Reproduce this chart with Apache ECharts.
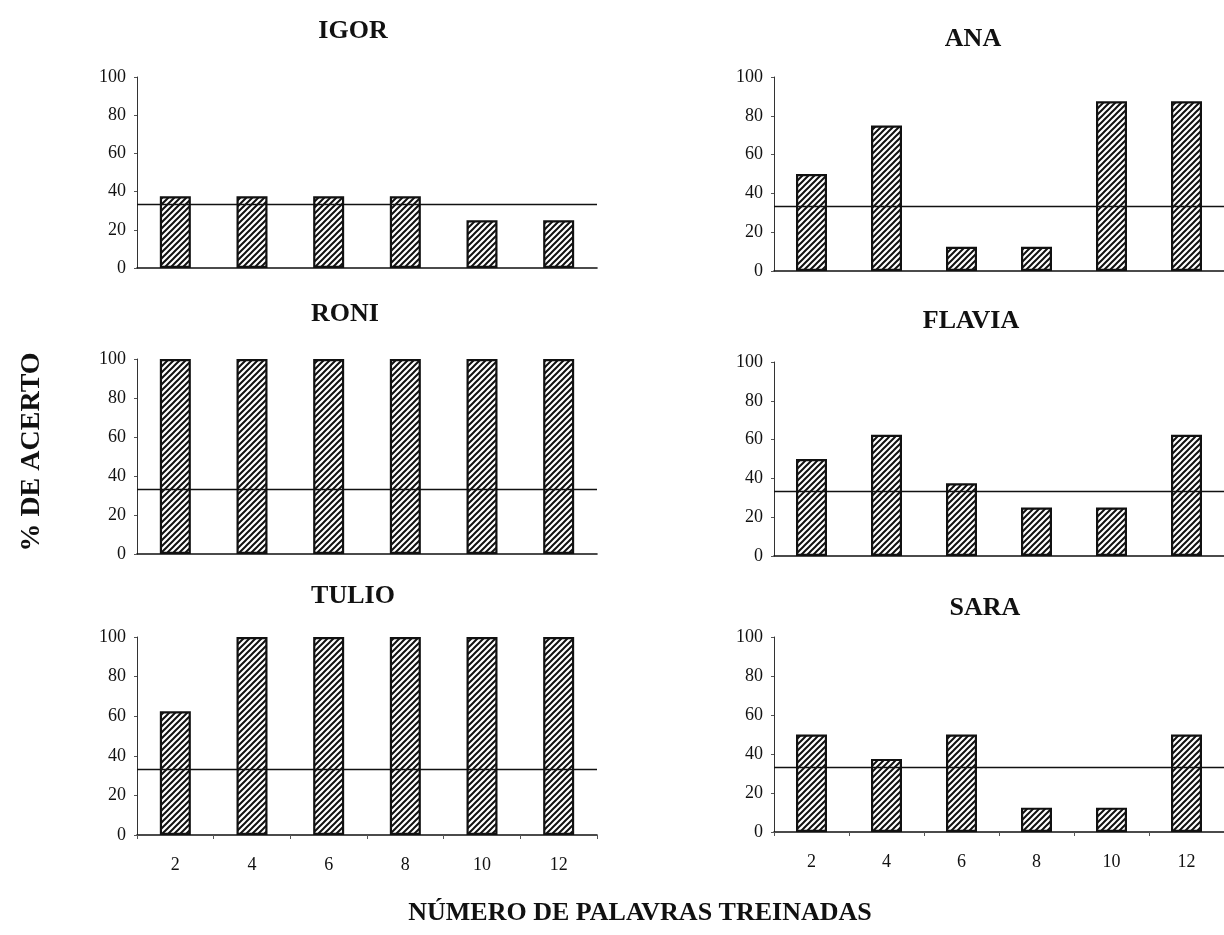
<!DOCTYPE html>
<html>
<head>
<meta charset="utf-8">
<script src="https://cdn.jsdelivr.net/npm/echarts@6/dist/echarts.min.js"></script>
<style>
  html, body { margin: 0; padding: 0; background: #ffffff; }
  #chart { width: 1224px; height: 935px; }
</style>
</head>
<body>
<div id="chart"></div>
<script>
// Words trained per block (x categories)
const categories = ['2', '4', '6', '8', '10', '12'];
const yTicks = [0, 20, 40, 60, 80, 100];

// Percentage correct per participant
const participants = ['IGOR', 'ANA', 'RONI', 'FLAVIA', 'TULIO', 'SARA'];
const igor   = [37.5, 37.5, 37.5, 37.5, 25, 25];
const ana    = [50, 75, 12.5, 12.5, 87.5, 87.5];
const roni   = [100, 100, 100, 100, 100, 100];
const flavia = [50, 62.5, 37.5, 25, 25, 62.5];
const tulio  = [62.5, 100, 100, 100, 100, 100];
const sara   = [50, 37.5, 50, 12.5, 12.5, 50];
const seriesValues = [igor, ana, roni, flavia, tulio, sara];

// Chance level reference line (one in three)
const chanceLevel = 33.3;

// Panel frames in pixels: [left, top, width, height, titleCenterX, titleCenterY]
const panels = [
  [137, 77, 460, 191, 348, 28],
  [774, 77, 460, 194, 968, 36],
  [137, 359, 460, 195, 340, 311],
  [774, 362, 460, 194, 966, 318],
  [137, 637, 460, 198, 348, 593],
  [774, 637, 460, 195, 980, 605]
];

// Diagonal hatch fill for the bars
function hatchPattern() {
  const s = 6;
  const c = document.createElement('canvas');
  c.width = s; c.height = s;
  const g = c.getContext('2d');
  g.fillStyle = '#ffffff';
  g.fillRect(0, 0, s, s);
  g.strokeStyle = '#111111';
  g.lineWidth = 2;
  g.beginPath();
  g.moveTo(-1, s + 1); g.lineTo(s + 1, -1);
  g.moveTo(-1, 1); g.lineTo(1, -1);
  g.moveTo(s - 1, s + 1); g.lineTo(s + 1, s - 1);
  g.stroke();
  return c;
}
const hatch = { image: hatchPattern(), repeat: 'repeat' };

const serif = 'Liberation Serif, Times New Roman, serif';

const grids = [], xAxes = [], yAxes = [], series = [], titles = [];
panels.forEach((p, i) => {
  const bottomRow = i >= 4;
  grids.push({ left: p[0], top: p[1], width: p[2], height: p[3] });
  titles.push({
    text: participants[i],
    left: p[4], top: p[5] - 15, textAlign: 'center',
    textStyle: { fontFamily: serif, fontWeight: 'bold', fontSize: 26, color: '#111' }
  });
  xAxes.push({
    type: 'category', gridIndex: i, data: categories,
    axisLine: { lineStyle: { color: '#111', width: 1.6 } },
    axisTick: { show: bottomRow, length: 4, lineStyle: { color: '#555' } },
    axisLabel: { show: bottomRow, margin: 21, fontFamily: serif, fontSize: 18, color: '#111' }
  });
  yAxes.push({
    type: 'value', gridIndex: i, min: yTicks[0], max: yTicks[yTicks.length - 1], interval: 20,
    axisLine: { show: true, lineStyle: { color: '#333', width: 1 } },
    axisTick: { show: true, length: 3, lineStyle: { color: '#555' } },
    axisLabel: { margin: 11, fontFamily: serif, fontSize: 18, color: '#111' },
    splitLine: { show: false }
  });
  series.push({
    type: 'bar', xAxisIndex: i, yAxisIndex: i,
    data: seriesValues[i], barWidth: 31,
    itemStyle: { color: hatch, borderColor: '#111', borderWidth: 2.2 },
    markLine: {
      silent: true, symbol: 'none', animation: false,
      label: { show: false },
      lineStyle: { color: '#111', width: 1.4, type: 'solid' },
      data: [{ yAxis: chanceLevel }]
    },
    z: 2
  });
});

const chart = echarts.init(document.getElementById('chart'), null, { renderer: 'canvas' });
chart.setOption({
  animation: false,
  backgroundColor: '#ffffff',
  title: titles,
  grid: grids,
  xAxis: xAxes,
  yAxis: yAxes,
  series: series,
  graphic: [
    {
      type: 'text', x: 32, y: 452, rotation: Math.PI / 2,
      style: {
        text: '% DE ACERTO', fontFamily: serif, fontWeight: 'bold', fontSize: 28,
        fill: '#111', textAlign: 'center', textVerticalAlign: 'middle'
      }
    },
    {
      type: 'text', x: 640, y: 913,
      style: {
        text: 'NÚMERO DE PALAVRAS TREINADAS', fontFamily: serif, fontWeight: 'bold', fontSize: 26,
        fill: '#111', textAlign: 'center', textVerticalAlign: 'middle'
      }
    }
  ]
});
</script>
</body>
</html>
